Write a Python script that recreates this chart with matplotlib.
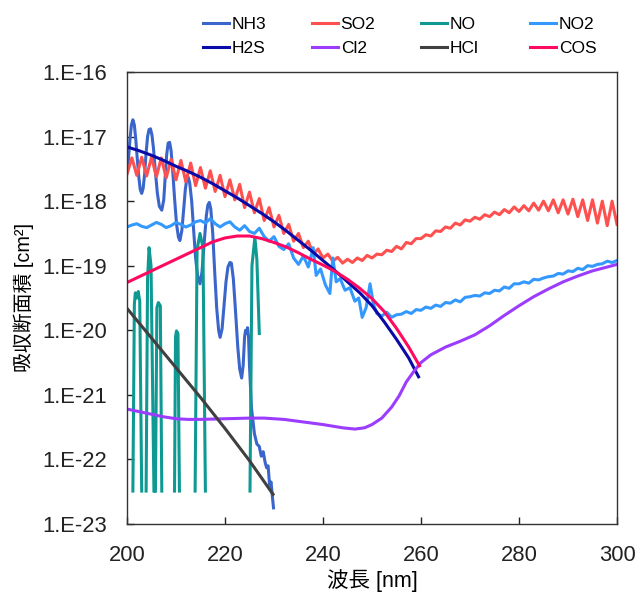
import numpy as np
import matplotlib
matplotlib.use("Agg")
import matplotlib.pyplot as plt

plt.rcParams['font.family'] = ['Liberation Sans', 'Noto Sans CJK JP', 'DejaVu Sans']

nan = np.nan

# --- data (log10 of cross section [cm2]) ---
nh3_nm = [200.0, 200.3, 200.6, 200.9, 201.2, 201.5, 201.8, 202.1, 202.4, 202.7, 203.0, 203.3,
          203.6, 203.9, 204.2, 204.5, 204.8, 205.1, 205.4, 205.8, 206.2, 206.6, 207.1, 207.5,
          207.8, 208.1, 208.4, 208.7, 209.0, 209.3, 209.7, 210.1, 210.5, 210.8, 211.2, 211.6,
          211.9, 212.2, 212.5, 212.8, 213.2, 213.6, 214.0, 214.4, 214.9, 215.3, 215.8, 216.2,
          216.5, 216.8, 217.1, 217.5, 217.9, 218.3, 218.7, 219.0, 219.4, 219.8, 220.2, 220.6,
          221.0, 221.3, 221.7, 222.1, 222.6, 223.0, 223.4, 223.7, 224.0, 224.2, 224.4, 224.6,
          224.8, 225.0, 225.4, 226.0, 226.5, 227.0, 227.4, 227.8, 228.2, 228.5, 228.8, 229.1,
          229.4, 229.7, 229.9]
nh3_log = [-17.55, -17.35, -17.05, -16.82, -16.74, -16.82, -17.05, -17.35, -17.62, -17.82, -17.88, -17.80,
           -17.58, -17.25, -17.00, -16.89, -16.88, -16.98, -17.18, -17.55, -17.88, -18.08, -18.14, -17.98,
           -17.62, -17.28, -17.10, -17.09, -17.22, -17.50, -17.95, -18.35, -18.56, -18.61, -18.45, -18.10,
           -17.82, -17.66, -17.63, -17.72, -18.00, -18.45, -18.88, -19.15, -19.28, -19.10, -18.60, -18.22,
           -18.06, -18.02, -18.12, -18.50, -19.10, -19.65, -20.00, -20.11, -19.98, -19.62, -19.25, -19.02,
           -18.95, -18.96, -19.20, -19.65, -20.25, -20.60, -20.74, -20.55, -20.10, -20.00, -20.05, -19.96,
           -20.10, -20.55, -21.20, -21.60, -21.76, -21.80, -21.95, -21.88, -22.05, -22.13, -22.10, -22.40,
           -22.35, -22.60, -22.75]

so2_nm = list(range(200, 301))
so2_log = [-17.58, -17.33, -17.60, -17.32, -17.61, -17.32, -17.62, -17.33, -17.64, -17.35,
           -17.67, -17.37, -17.70, -17.41, -17.76, -17.48, -17.80, -17.53, -17.85, -17.60,
           -17.93, -17.67, -17.98, -17.74, -18.10, -17.86, -18.18, -17.96, -18.30, -18.10,
           -18.40, -18.22, -18.50, -18.36, -18.62, -18.50, -18.72, -18.62, -18.82, -18.74,
           -18.88, -18.82, -18.93, -18.87, -18.96, -18.90, -18.95, -18.88, -18.92, -18.84,
           -18.88, -18.82, -18.83, -18.76, -18.78, -18.70, -18.74, -18.64, -18.66, -18.58,
           -18.58, -18.52, -18.54, -18.46, -18.47, -18.40, -18.42, -18.34, -18.37, -18.29,
           -18.31, -18.25, -18.28, -18.21, -18.24, -18.17, -18.21, -18.13, -18.18, -18.09,
           -18.16, -18.07, -18.15, -18.03, -18.14, -18.00, -18.15, -17.98, -18.18, -17.98,
           -18.20, -17.97, -18.24, -17.98, -18.30, -17.98, -18.34, -18.00, -18.38, -18.00,
           -18.36]

no_nm = [201.2, 201.5, 201.7, 202.0, 202.3, 202.6, 203.0, nan,
         203.9, 204.2, 204.5, 204.9, 205.5, nan,
         205.8, 206.1, 206.4, 206.8, 207.1, nan,
         209.7, 209.9, 210.1, 210.4, 210.7, nan,
         213.9, 214.3, 214.9, 215.5, 216.0, nan,
         225.1, 225.5, 226.1, 226.5, 227.0]
no_log = [-22.49, -19.6, -19.42, -19.50, -19.40, -19.55, -22.49, nan,
          -22.49, -19.2, -18.72, -19.0, -22.49, nan,
          -22.49, -19.65, -19.57, -19.62, -22.49, nan,
          -22.49, -20.1, -20.01, -20.05, -22.49, nan,
          -22.49, -18.75, -18.50, -18.72, -22.49, nan,
          -22.49, -19.0, -18.56, -18.9, -20.05]

no2_nm = [200, 201, 202, 203, 204, 205, 206, 207, 208, 209, 210, 211, 212, 213, 214, 215,
          216, 217, 218, 219, 220, 221, 222, 223, 224, 225, 226, 227, 228, 229, 230, 231,
          232, 233, 234, 235, 236, 237, 238, 238.6, 239.5, 240.5, 241.4, 242, 242.7, 243.5,
          244.5, 245.5, 246.5, 247.3, 248, 248.8, 249.6, 250.3, 251, 252, 253, 254, 255,
          256, 257, 258, 259, 260, 261, 262, 263, 264, 265, 266, 267, 268, 269, 270, 271,
          272, 273, 274, 275, 276, 277, 278, 279, 280, 281, 282, 283, 284, 285, 286, 287,
          288, 289, 290, 291, 292, 293, 294, 295, 296, 297, 298, 299, 300]
no2_log = [-18.40, -18.37, -18.35, -18.39, -18.41, -18.37, -18.33, -18.36, -18.41, -18.38,
           -18.33, -18.36, -18.40, -18.37, -18.32, -18.30, -18.34, -18.27, -18.35, -18.40,
           -18.35, -18.32, -18.40, -18.45, -18.38, -18.47, -18.50, -18.42, -18.55, -18.62,
           -18.55, -18.70, -18.75, -18.66, -18.88, -18.98, -18.85, -19.02, -18.72, -19.15,
           -19.05, -19.30, -19.43, -18.88, -19.25, -19.20, -19.38, -19.34, -19.55, -19.50,
           -19.80, -19.65, -19.28, -19.60, -19.74, -19.78, -19.72, -19.80, -19.76,
           -19.75, -19.71, -19.74, -19.68, -19.69, -19.64, -19.66, -19.61, -19.63, -19.57,
           -19.58, -19.53, -19.56, -19.49, -19.48, -19.46, -19.47, -19.42, -19.43, -19.38,
           -19.39, -19.33, -19.35, -19.28, -19.28, -19.25, -19.27, -19.21, -19.22, -19.19,
           -19.17, -19.16, -19.12, -19.13, -19.08, -19.09, -19.04, -19.06, -19.00, -19.01,
           -18.98, -18.97, -18.93, -18.95, -18.92]

h2s_nm = [200, 202.5, 205, 207.5, 210, 212.5, 215, 217.5, 220, 222.5, 225, 227.5, 230,
          232.5, 235, 237.5, 240, 242.5, 245, 247.5, 250, 252.5, 255, 257.5, 259.5]
h2s_log = [-17.16, -17.22, -17.29, -17.37, -17.46, -17.54, -17.63, -17.73, -17.84, -17.95,
           -18.07, -18.19, -18.32, -18.46, -18.61, -18.76, -18.92, -19.08, -19.25, -19.42,
           -19.62, -19.87, -20.14, -20.43, -20.72]

cl2_nm = [200, 202.5, 205, 207.5, 210, 212.5, 215, 220, 225, 228, 232, 236, 240, 244, 246.5,
          248.5, 250, 252, 254, 255.5, 257, 258.5, 260, 262, 265, 268, 271, 274, 277, 280,
          283, 286, 289, 292, 295, 298, 300]
cl2_log = [-21.22, -21.26, -21.30, -21.34, -21.37, -21.38, -21.38, -21.37, -21.36, -21.36,
           -21.38, -21.42, -21.46, -21.51, -21.53, -21.51, -21.46, -21.36, -21.19, -21.02,
           -20.80, -20.64, -20.50, -20.38, -20.26, -20.17, -20.07, -19.93, -19.77, -19.62,
           -19.48, -19.36, -19.25, -19.16, -19.08, -19.02, -18.98]

hcl_nm = [200, 205, 210, 215, 220, 225, 229.8]
hcl_log = [-19.66, -20.12, -20.58, -21.04, -21.52, -22.02, -22.54]

cos_nm = [200, 202.5, 205, 207.5, 210, 212.5, 215, 217.5, 220, 222.5, 225, 227.5, 230,
          232.5, 235, 237.5, 240, 242.5, 245, 247.5, 250, 252.5, 255, 257.5, 259.7]
cos_log = [-19.26, -19.17, -19.08, -18.99, -18.90, -18.81, -18.72, -18.63, -18.57, -18.54,
           -18.54, -18.58, -18.64, -18.71, -18.80, -18.90, -18.99, -19.09, -19.21, -19.35,
           -19.51, -19.71, -19.97, -20.26, -20.55]

series = [
    ("NH3", nh3_nm, nh3_log, "#3a66cc"),
    ("SO2", so2_nm, so2_log, "#ff5050"),
    ("NO", no_nm, no_log, "#0e9a92"),
    ("NO2", no2_nm, no2_log, "#3399ff"),
    ("H2S", h2s_nm, h2s_log, "#0a0aa8"),
    ("Cl2", cl2_nm, cl2_log, "#9b3cff"),
    ("HCl", hcl_nm, hcl_log, "#404040"),
    ("COS", cos_nm, cos_log, "#ff0a60"),
]

y_ticks = [1e-16, 1e-17, 1e-18, 1e-19, 1e-20, 1e-21, 1e-22, 1e-23]
y_labels = ["1.E-16", "1.E-17", "1.E-18", "1.E-19", "1.E-20", "1.E-21", "1.E-22", "1.E-23"]
x_ticks = [200, 220, 240, 260, 280, 300]

fig = plt.figure(figsize=(6.38, 5.96), dpi=100)
ax = fig.add_axes([127 / 638, 1 - 524 / 596, 490 / 638, 452 / 596])

for name, xs, ls, col in series:
    ax.plot(xs, 10.0 ** np.array(ls, dtype=float), color=col, lw=2.2, label=name,
            solid_joinstyle="round")

ax.set_yscale("log")
ax.set_xlim(200, 300)
ax.set_ylim(1e-23, 1e-16)
ax.set_yticks(y_ticks)
ax.set_yticklabels(y_labels)
ax.yaxis.set_minor_locator(matplotlib.ticker.NullLocator())
ax.set_xticks(x_ticks)
ax.tick_params(direction="in", length=5, width=1, labelsize=15.8, pad=14.5, colors="#222222")
ax.tick_params(axis="x", pad=15)
for sp in ax.spines.values():
    sp.set_color("#333333")
    sp.set_linewidth(1)

ax.set_xlabel("波長 [nm]", fontsize=15.5)
ax.set_ylabel("吸収断面積 [cm²]", fontsize=14.3)
ax.xaxis.set_label_coords(0.5, -0.1)
ax.yaxis.set_label_coords(-0.19, 0.5)

# legend: four columns at fixed x positions, filled row by row
handles, labels = ax.get_legend_handles_labels()
col_x = [203, 312, 421, 530]
for c, x0 in enumerate(col_x):
    idx = [c, c + 4]
    leg = fig.legend([handles[i] for i in idx], [labels[i] for i in idx],
                     loc="upper left", bbox_to_anchor=(x0 / 638, 1 - 17 / 596), ncol=1,
                     frameon=False, fontsize=12.5, handlelength=1.5, handletextpad=0.15,
                     borderpad=0, borderaxespad=0, labelspacing=0.5)

fig.savefig("out.png", dpi=100)
